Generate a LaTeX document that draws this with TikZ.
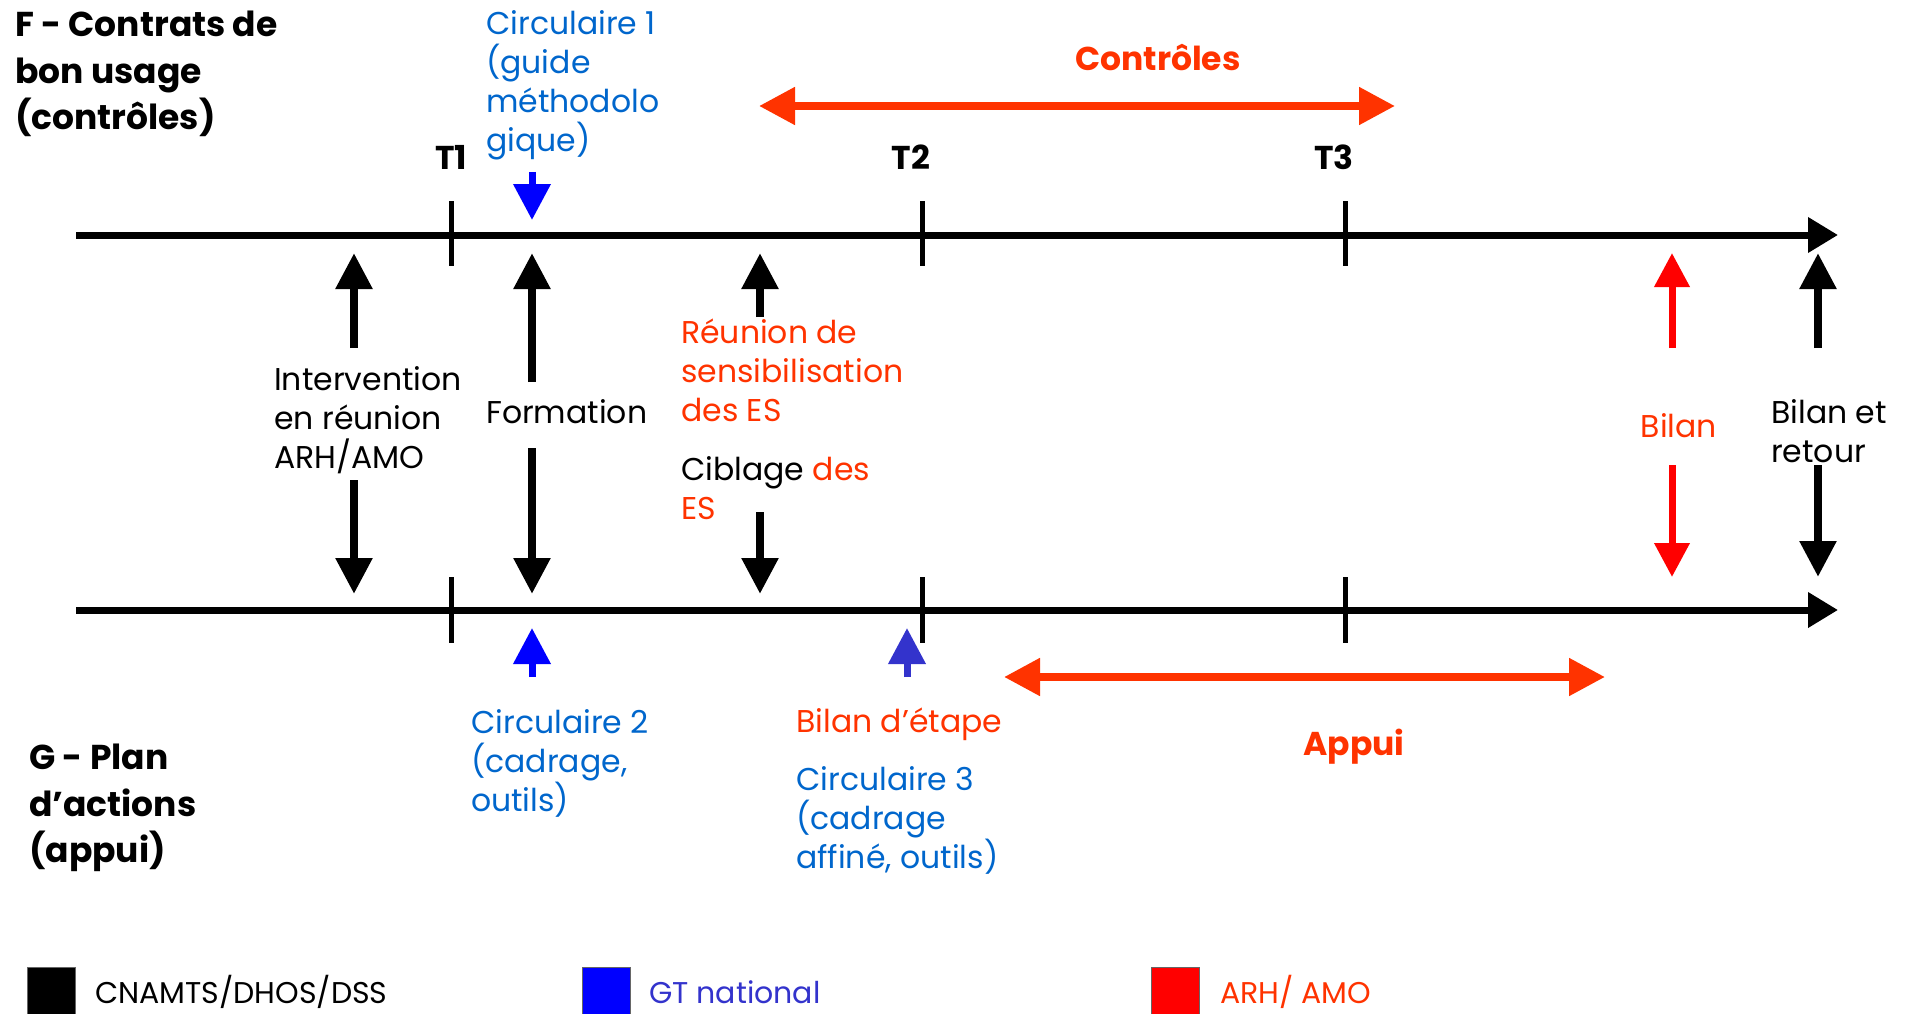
\documentclass[tikz,border=0pt]{standalone}
\usepackage{fontspec}
\setmainfont{Poppins}
\usetikzlibrary{arrows.meta}
\definecolor{cblue}{HTML}{0066CC}
\definecolor{ablue}{HTML}{0000FF}
\definecolor{pblue}{HTML}{3333CC}
\definecolor{orred}{HTML}{FF3300}
\definecolor{pred}{HTML}{FF0000}
\begin{document}
\begin{tikzpicture}[x=1pt,y=-1pt,
  timeline/.style={line width=7pt,-{Triangle[length=30pt,width=34pt]}},
  tickmark/.style={line width=5pt},
  bigarrow/.style={line width=8.5pt,-{Triangle[length=36pt,width=35pt]}},
  redarrow/.style={line width=7pt,pred,-{Triangle[length=34pt,width=34pt]}},
  bluearrow/.style={line width=7pt,-{Triangle[length=36pt,width=36pt]}},
  spanarrow/.style={line width=8pt,orred,{Triangle[length=36pt,width=36pt]}-{Triangle[length=36pt,width=36pt]}},
  lbl/.style={inner sep=0pt,anchor=north west,align=left,font=\fontsize{31.5}{39}\selectfont},
  ttl/.style={inner sep=0pt,anchor=north west,align=left,font=\fontsize{34.5}{46.5}\selectfont\bfseries},
  tlab/.style={inner sep=0pt,anchor=base,font=\fontsize{33}{40}\selectfont\bfseries},
  legtxt/.style={inner sep=0pt,anchor=base west,font=\fontsize{30}{36}\selectfont},
  legbox/.style={inner sep=0pt,minimum width=48pt,minimum height=47pt,anchor=north west,draw=black!60,line width=1pt}
]
\useasboundingbox (0,0) rectangle (1912,1014);

% timelines
\coordinate (ts) at (76,235); \coordinate (te) at (1838,235);
\coordinate (bs) at (76,610); \coordinate (be) at (1838,610);
\draw[timeline] (ts) -- (te);
\draw[timeline] (bs) -- (be);

% ticks
\foreach \n/\x in {1/451,2/922,3/1345}{
  \coordinate (tt\n a) at (\x,201); \coordinate (tt\n b) at (\x,266);
  \coordinate (bt\n a) at (\x,577); \coordinate (bt\n b) at (\x,643);
  \draw[tickmark] (tt\n a) -- (tt\n b);
  \draw[tickmark] (bt\n a) -- (bt\n b);
}
\node[tlab] (T1) at (451,169) {T1};
\node[tlab] (T2) at (911,169) {T2};
\node[tlab] (T3) at (1334,169) {T3};

% titles
\node[ttl] (F) at (15,11) {F - Contrats de\\bon usage\\(contrôles)};
\node[ttl] (G) at (29,744) {G - Plan\\d’actions\\(appui)};

% Circulaire 1
\node[lbl,text=cblue] (c1) at (486,10) {Circulaire 1\\(guide\\méthodolo\\gique)};
\coordinate (c1a) at (532,172); \coordinate (c1b) at (532,220);
\draw[bluearrow,ablue] (c1a) -- (c1b);

% Controles
\node[tlab,text=orred] (ctrl) at (1158,71) {Contrôles};
\coordinate (ca) at (759,106); \coordinate (cb) at (1395,106);
\draw[spanarrow] (ca) -- (cb);

% Intervention
\node[lbl] (interv) at (274,366) {Intervention\\en réunion\\ARH/AMO};
\coordinate (i1) at (354,348); \coordinate (i2) at (354,253);
\coordinate (i3) at (354,480); \coordinate (i4) at (354,594);
\draw[bigarrow] (i1) -- (i2);
\draw[bigarrow] (i3) -- (i4);

% Formation
\node[lbl] (form) at (486,399) {Formation};
\coordinate (f1) at (532,382); \coordinate (f2) at (532,253);
\coordinate (f3) at (532,448); \coordinate (f4) at (532,594);
\draw[bigarrow] (f1) -- (f2);
\draw[bigarrow] (f3) -- (f4);

% Reunion / Ciblage
\node[lbl,text=orred] (reun) at (681,319) {Réunion de\\sensibilisation\\des ES};
\node[lbl] (cibl) at (681,456) {Ciblage \textcolor{orred}{des}\\\textcolor{orred}{ES}};
\coordinate (r1) at (760,317); \coordinate (r2) at (760,253);
\coordinate (r3) at (760,512); \coordinate (r4) at (760,594);
\draw[bigarrow] (r1) -- (r2);
\draw[bigarrow] (r3) -- (r4);

% Bilan
\node[inner sep=0pt,anchor=base,font=\fontsize{31.5}{39}\selectfont,text=orred] (bilan) at (1679,437) {Bilan};
\coordinate (b1) at (1672,348); \coordinate (b2) at (1672,253);
\coordinate (b3) at (1672,465); \coordinate (b4) at (1672,577);
\draw[redarrow] (b1) -- (b2);
\draw[redarrow] (b3) -- (b4);

% Bilan et retour
\node[lbl] (retour) at (1771,399) {Bilan et\\retour};
\coordinate (e1) at (1818,348); \coordinate (e2) at (1818,253);
\coordinate (e3) at (1818,465); \coordinate (e4) at (1818,577);
\draw[bigarrow] (e1) -- (e2);
\draw[bigarrow] (e3) -- (e4);

% bottom blue arrows
\coordinate (c2a) at (532,677); \coordinate (c2b) at (532,628);
\draw[bluearrow,ablue] (c2a) -- (c2b);
\coordinate (c3a) at (907,677); \coordinate (c3b) at (907,628);
\draw[bluearrow,pblue] (c3a) -- (c3b);

\node[lbl,text=cblue] (c2) at (471,709) {Circulaire 2\\(cadrage,\\outils)};
\node[lbl,text=orred] (be2) at (796,708) {Bilan d’étape};
\node[lbl,text=cblue] (c3) at (796,766) {Circulaire 3\\(cadrage\\affiné, outils)};

% Appui
\coordinate (aa) at (1004,677); \coordinate (ab) at (1605,677);
\draw[spanarrow] (aa) -- (ab);
\node[tlab,text=orred] (appui) at (1354,755) {Appui};

% legend
\node[legbox,fill=black] (l1) at (27,967) {};
\node[legbox,fill=ablue] (l2) at (582,967) {};
\node[legbox,fill=pred] (l3) at (1151,967) {};
\node[legtxt] (lt1) at (95,1003) {CNAMTS/DHOS/DSS};
\node[legtxt,text=pblue] (lt2) at (649,1003) {GT national};
\node[legtxt,text=orred] (lt3) at (1220,1003) {ARH/ AMO};
\end{tikzpicture}
\end{document}
